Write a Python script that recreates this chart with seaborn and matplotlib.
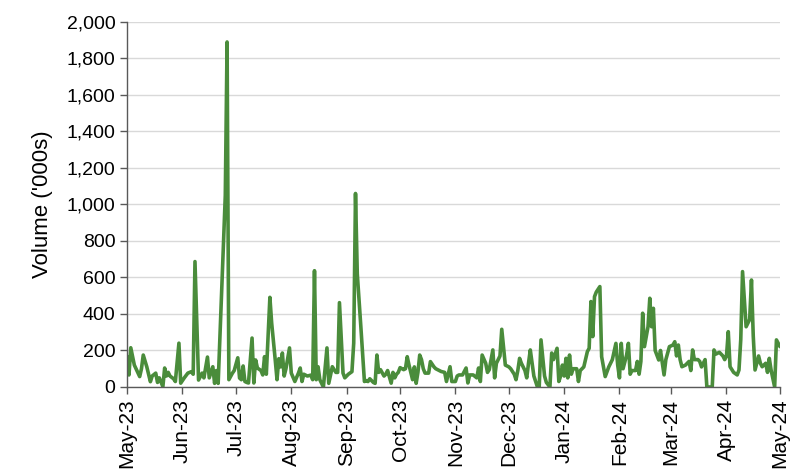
import matplotlib
matplotlib.use("Agg")
import matplotlib.pyplot as plt
import matplotlib.dates as mdates
from matplotlib.ticker import FuncFormatter, MultipleLocator
import seaborn as sns
import pandas as pd

# -----------------------------
# DATA
# -----------------------------
dates = [
    "2023-05-01", "2023-05-02", "2023-05-03", "2023-05-05", "2023-05-08", "2023-05-09", "2023-05-10",
    "2023-05-12", "2023-05-14", "2023-05-15", "2023-05-17", "2023-05-18", "2023-05-19", "2023-05-21",
    "2023-05-22", "2023-05-23", "2023-05-24", "2023-05-25", "2023-05-27", "2023-05-28", "2023-05-30",
    "2023-05-31", "2023-06-02", "2023-06-04", "2023-06-06", "2023-06-07", "2023-06-08", "2023-06-10",
    "2023-06-12", "2023-06-13", "2023-06-15", "2023-06-16", "2023-06-18", "2023-06-19", "2023-06-20",
    "2023-06-21", "2023-06-25", "2023-06-26", "2023-06-27", "2023-06-29", "2023-06-30", "2023-07-02",
    "2023-07-03", "2023-07-04", "2023-07-05", "2023-07-06", "2023-07-07", "2023-07-08", "2023-07-10",
    "2023-07-11", "2023-07-12", "2023-07-13", "2023-07-15", "2023-07-16", "2023-07-17", "2023-07-18",
    "2023-07-20", "2023-07-21", "2023-07-23", "2023-07-24", "2023-07-25", "2023-07-26", "2023-07-27",
    "2023-07-28", "2023-07-29", "2023-07-31", "2023-08-01", "2023-08-03", "2023-08-05", "2023-08-06",
    "2023-08-07", "2023-08-08", "2023-08-10", "2023-08-12", "2023-08-13", "2023-08-14", "2023-08-15",
    "2023-08-16", "2023-08-17", "2023-08-19", "2023-08-21", "2023-08-22", "2023-08-24", "2023-08-26",
    "2023-08-27", "2023-08-28", "2023-08-30", "2023-08-31", "2023-09-01", "2023-09-02", "2023-09-04",
    "2023-09-05", "2023-09-06", "2023-09-07", "2023-09-09", "2023-09-11", "2023-09-12", "2023-09-13",
    "2023-09-14", "2023-09-16", "2023-09-17", "2023-09-18", "2023-09-19", "2023-09-20", "2023-09-22",
    "2023-09-23", "2023-09-24", "2023-09-26", "2023-09-27", "2023-09-28", "2023-09-29", "2023-09-30",
    "2023-10-01", "2023-10-03", "2023-10-04", "2023-10-05", "2023-10-06", "2023-10-08", "2023-10-09",
    "2023-10-10", "2023-10-11", "2023-10-12", "2023-10-13", "2023-10-14", "2023-10-15", "2023-10-17",
    "2023-10-18", "2023-10-20", "2023-10-21", "2023-10-23", "2023-10-24", "2023-10-26", "2023-10-27",
    "2023-10-28", "2023-10-29", "2023-10-30", "2023-11-01", "2023-11-02", "2023-11-03", "2023-11-05",
    "2023-11-07", "2023-11-08", "2023-11-09", "2023-11-11", "2023-11-13", "2023-11-14", "2023-11-15",
    "2023-11-16", "2023-11-18", "2023-11-19", "2023-11-20", "2023-11-22", "2023-11-23", "2023-11-24",
    "2023-11-26", "2023-11-27", "2023-11-29", "2023-12-01", "2023-12-02", "2023-12-04", "2023-12-05",
    "2023-12-06", "2023-12-07", "2023-12-08", "2023-12-10", "2023-12-11", "2023-12-12", "2023-12-13",
    "2023-12-15", "2023-12-16", "2023-12-17", "2023-12-18", "2023-12-19", "2023-12-21", "2023-12-22",
    "2023-12-24", "2023-12-25", "2023-12-26", "2023-12-28", "2023-12-29", "2023-12-30", "2023-12-31",
    "2024-01-01", "2024-01-02", "2024-01-03", "2024-01-04", "2024-01-05", "2024-01-06", "2024-01-08",
    "2024-01-09", "2024-01-10", "2024-01-12", "2024-01-14", "2024-01-15", "2024-01-16", "2024-01-17",
    "2024-01-18", "2024-01-19", "2024-01-21", "2024-01-22", "2024-01-24", "2024-01-26", "2024-01-28",
    "2024-01-30", "2024-01-31", "2024-02-01", "2024-02-02", "2024-02-03", "2024-02-05", "2024-02-06",
    "2024-02-07", "2024-02-08", "2024-02-10", "2024-02-11", "2024-02-12", "2024-02-13", "2024-02-14",
    "2024-02-15", "2024-02-17", "2024-02-18", "2024-02-19", "2024-02-20", "2024-02-21", "2024-02-23",
    "2024-02-24", "2024-02-26", "2024-02-27", "2024-02-29", "2024-03-02", "2024-03-03", "2024-03-04",
    "2024-03-05", "2024-03-06", "2024-03-07", "2024-03-09", "2024-03-11", "2024-03-12", "2024-03-13",
    "2024-03-14", "2024-03-16", "2024-03-17", "2024-03-18", "2024-03-20", "2024-03-21", "2024-03-24",
    "2024-03-25", "2024-03-26", "2024-03-28", "2024-03-30", "2024-03-31", "2024-04-01", "2024-04-02",
    "2024-04-03", "2024-04-05", "2024-04-07", "2024-04-08", "2024-04-09", "2024-04-10", "2024-04-12",
    "2024-04-14", "2024-04-15", "2024-04-16", "2024-04-17", "2024-04-19", "2024-04-20", "2024-04-21",
    "2024-04-23", "2024-04-24", "2024-04-25", "2024-04-26", "2024-04-27", "2024-04-28", "2024-04-29",
    "2024-05-01",
]

volume = [
    166, 66, 215, 120, 57, 100, 175,
    110, 29, 60, 76, 25, 50, 2,
    104, 60, 80, 60, 45, 30, 240,
    21, 50, 76, 84, 70, 687, 38,
    76, 50, 164, 50, 111, 20, 90,
    20, 1050, 1890, 40, 76, 90, 160,
    49, 40, 115, 30, 25, 22, 268,
    22, 148, 104, 90, 66, 166, 70,
    491, 350, 148, 40, 155, 110, 186,
    60, 100, 214, 76, 30, 76, 104,
    30, 70, 60, 65, 40, 637, 40,
    111, 40, 0, 214, 20, 111, 80,
    80, 462, 76, 50, 60, 70, 84,
    240, 1060, 620, 330, 30, 35, 30,
    45, 25, 20, 175, 80, 95, 60,
    70, 90, 21, 80, 50, 70, 80,
    106, 95, 100, 166, 120, 40, 110,
    20, 80, 175, 150, 100, 76, 76,
    139, 110, 100, 90, 85, 80, 30,
    70, 111, 30, 30, 60, 66, 66,
    104, 22, 66, 66, 50, 104, 30,
    175, 130, 80, 95, 203, 50, 130,
    170, 316, 120, 110, 100, 70, 40,
    90, 157, 130, 90, 50, 130, 203,
    60, 30, 0, 0, 258, 60, 25,
    0, 186, 150, 212, 30, 60, 120,
    60, 157, 50, 175, 70, 100, 100,
    30, 90, 110, 194, 212, 468, 276,
    495, 520, 550, 166, 57, 110, 150,
    239, 120, 50, 239, 100, 175, 239,
    70, 90, 90, 140, 70, 140, 404,
    221, 330, 486, 330, 431, 200, 148,
    200, 66, 150, 221, 230, 248, 170,
    230, 150, 111, 120, 140, 90, 203,
    150, 150, 140, 110, 150, 0, 0,
    203, 180, 190, 170, 150, 170, 303,
    111, 80, 66, 93, 260, 632, 330,
    370, 586, 280, 93, 170, 130, 111,
    130, 80, 157, 93, 45, 0, 258,
    221,
]

x_start = "2023-05-01"
x_end = "2024-05-01"
y_max = 2000
y_step = 200
y_label = "Volume ('000s)"
line_color = "#4a8c3b"

df = pd.DataFrame({"date": pd.to_datetime(dates), "volume": volume})

# -----------------------------
# PLOT
# -----------------------------
sns.set_style("white")
plt.rcParams["font.family"] = ["Liberation Sans", "DejaVu Sans"]

fig = plt.figure(figsize=(8.0, 4.76), dpi=100)
ax = fig.add_axes([0.159, 0.187, 0.816, 0.767])

sns.lineplot(data=df, x="date", y="volume", ax=ax, color=line_color, linewidth=2.6)

ax.set_xlim(pd.Timestamp(x_start), pd.Timestamp(x_end))
ax.set_ylim(0, y_max)
ax.yaxis.set_major_locator(MultipleLocator(y_step))
ax.yaxis.set_major_formatter(FuncFormatter(lambda v, _: f"{int(v):,}"))
ax.xaxis.set_major_locator(mdates.MonthLocator())
ax.xaxis.set_major_formatter(mdates.DateFormatter("%b-%y"))

ax.grid(axis="y", color="#d9d9d9", linewidth=1.0)
ax.set_axisbelow(True)
for side in ["top", "right"]:
    ax.spines[side].set_visible(False)
for side in ["left", "bottom"]:
    ax.spines[side].set_color("#595959")
    ax.spines[side].set_linewidth(1.0)

ax.tick_params(axis="both", which="major", direction="out", length=5, width=1.0,
               color="#595959", labelsize=14, labelcolor="black", bottom=True, left=True)
ax.tick_params(axis="x", labelsize=15)
plt.setp(ax.get_xticklabels(), rotation=90)

ax.set_xlabel("")
ax.set_ylabel(y_label, fontsize=16, color="black", labelpad=10)

fig.savefig("out.png", dpi=100)
